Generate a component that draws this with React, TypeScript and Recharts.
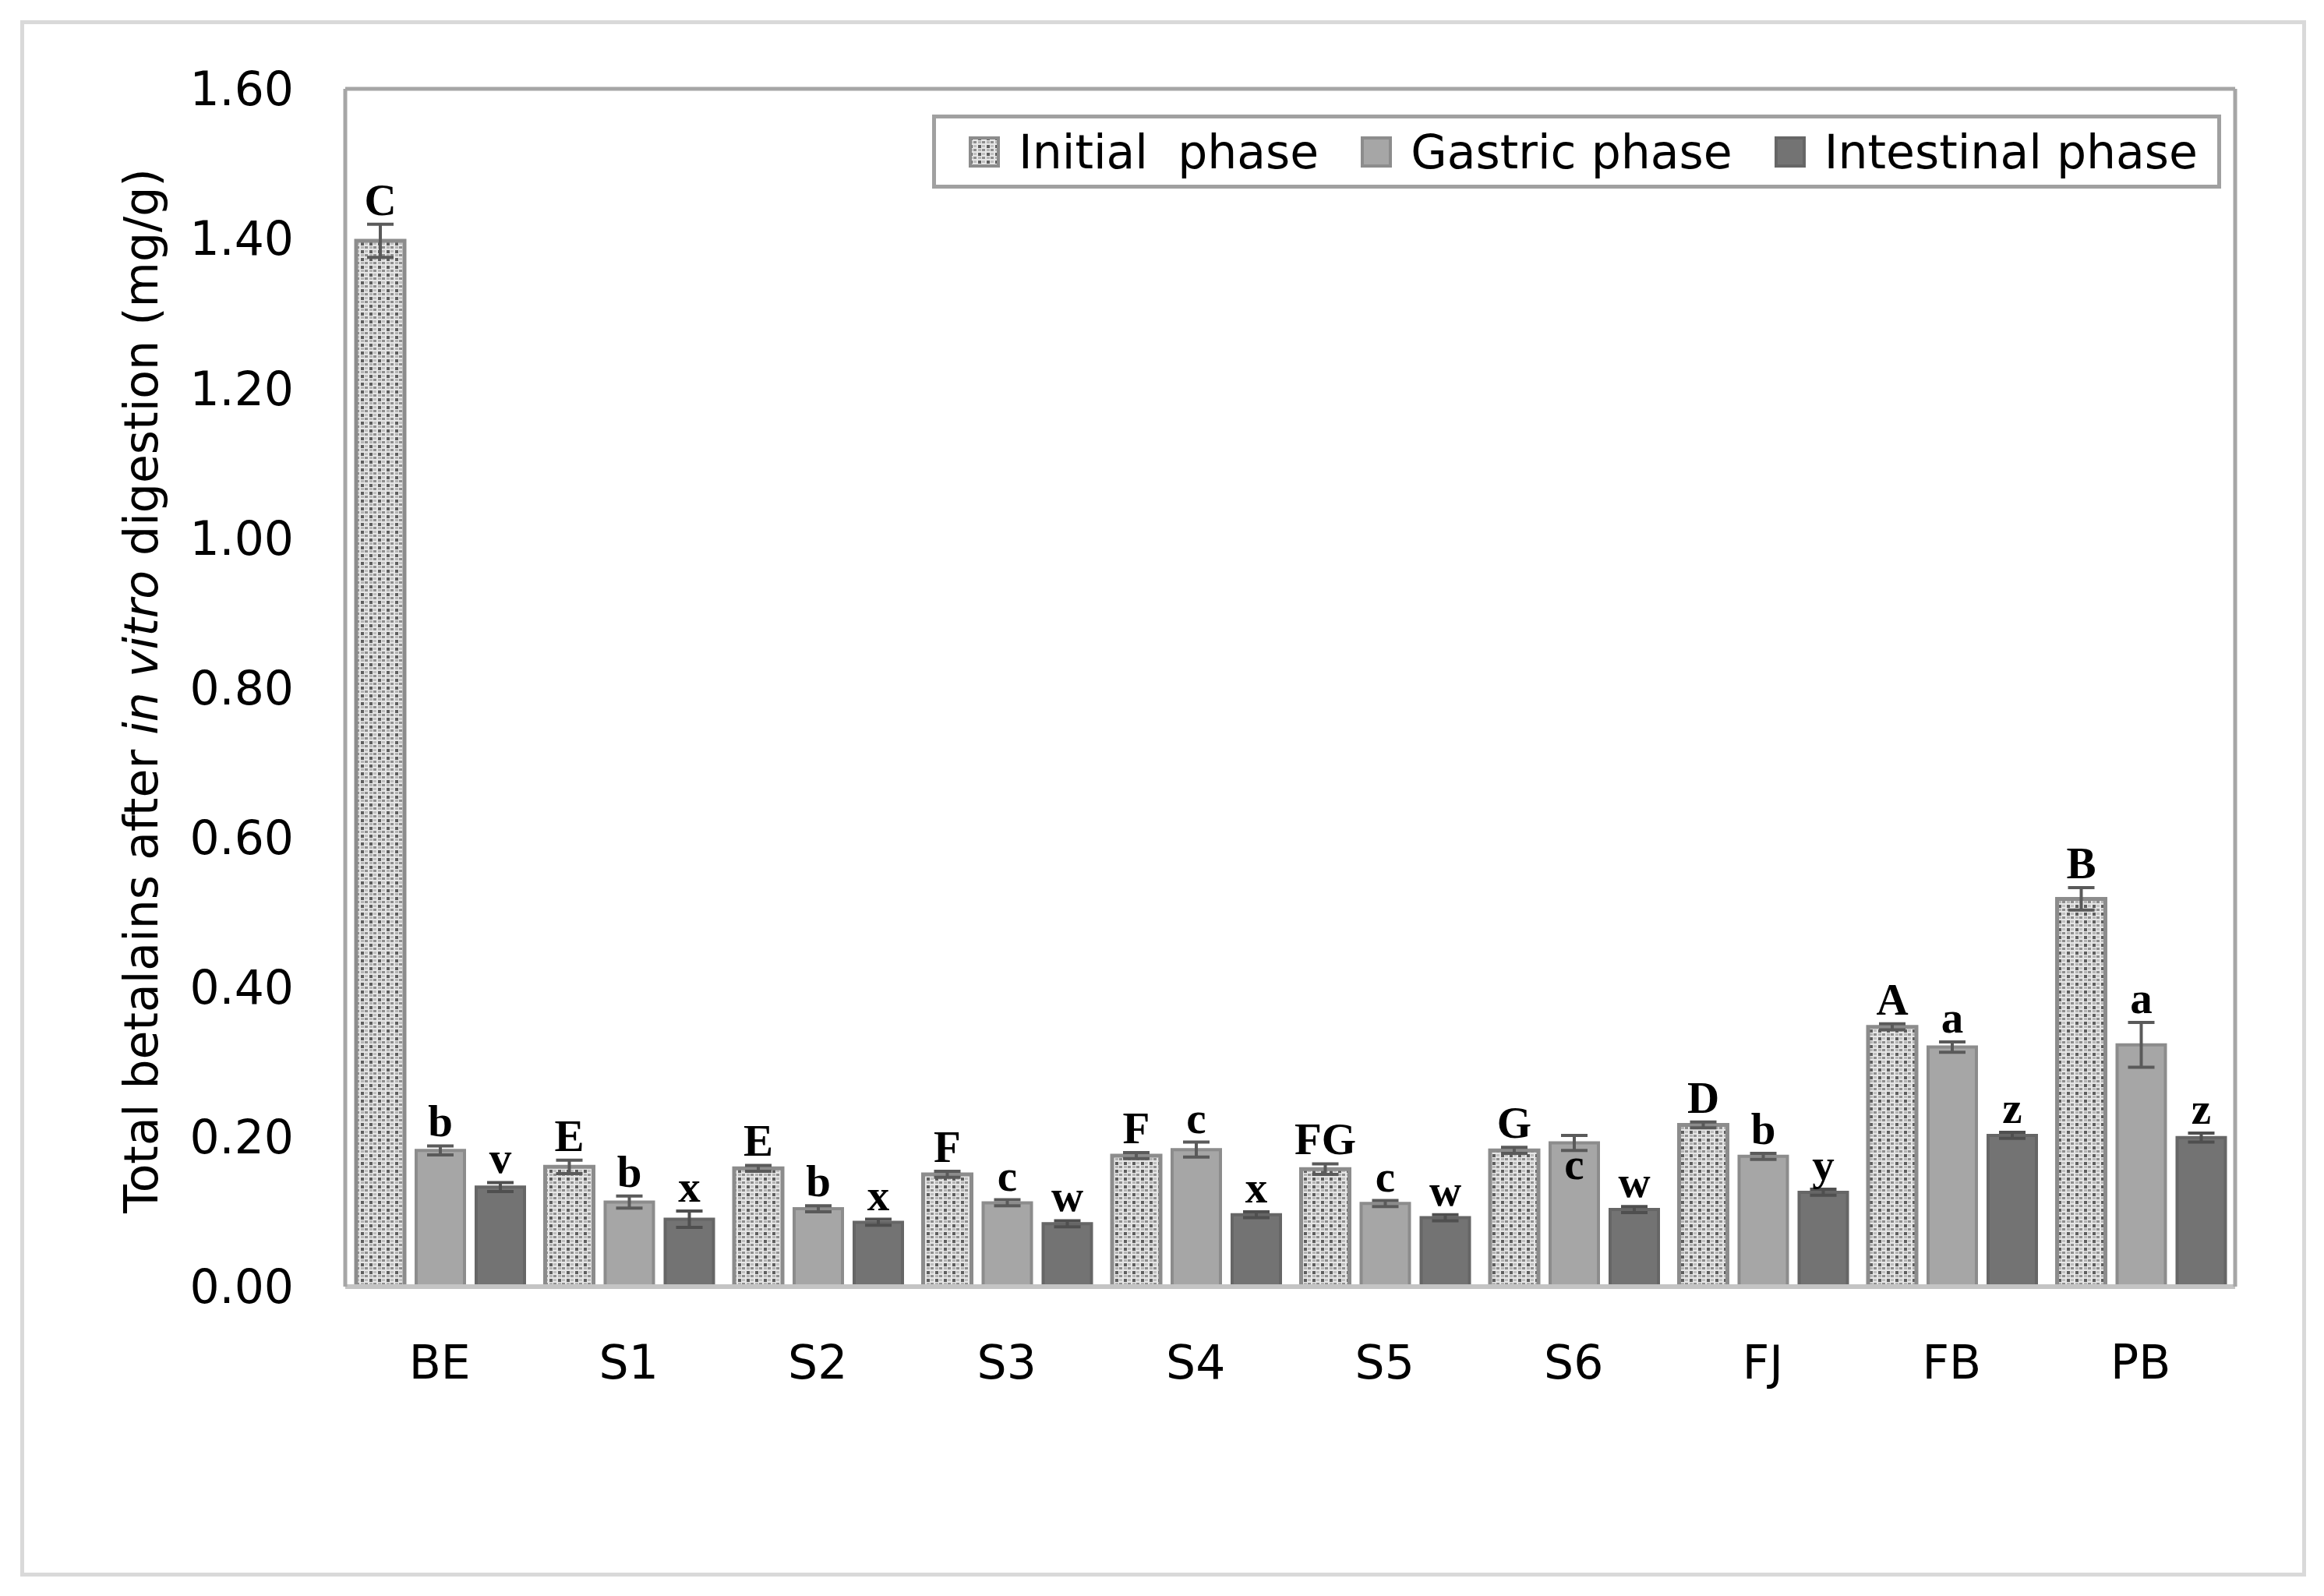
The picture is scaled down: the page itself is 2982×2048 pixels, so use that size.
import React from 'react';
import { BarChart, Bar, XAxis, YAxis, ErrorBar, LabelList, Legend } from 'recharts';

const categories = ['BE', 'S1', 'S2', 'S3', 'S4', 'S5', 'S6', 'FJ', 'FB', 'PB'];

const initialPhase = [1.397, 0.16, 0.158, 0.15, 0.175, 0.157, 0.182, 0.216, 0.347, 0.518];
const initialErr = [0.022, 0.009, 0.004, 0.004, 0.004, 0.007, 0.004, 0.004, 0.004, 0.015];
const initialLetters = ['C', 'E', 'E', 'F', 'F', 'FG', 'G', 'D', 'A', 'B'];

const gastricPhase = [0.182, 0.113, 0.104, 0.112, 0.183, 0.111, 0.192, 0.174, 0.32, 0.323];
const gastricErr = [0.006, 0.008, 0.004, 0.004, 0.01, 0.004, 0.01, 0.004, 0.007, 0.03];
const gastricLetters = ['b', 'b', 'b', 'c', 'c', 'c', 'c', 'b', 'a', 'a'];

const intestinalPhase = [0.133, 0.09, 0.086, 0.084, 0.096, 0.092, 0.103, 0.126, 0.202, 0.199];
const intestinalErr = [0.006, 0.011, 0.004, 0.004, 0.004, 0.004, 0.004, 0.004, 0.004, 0.006];
const intestinalLetters = ['v', 'x', 'x', 'w', 'x', 'w', 'w', 'y', 'z', 'z'];

const yTicks = [0, 0.2, 0.4, 0.6, 0.8, 1.0, 1.2, 1.4, 1.6];
const seriesOrder = ['initial', 'gastric', 'intestinal'];

const data = categories.map((name, i) => ({
  name,
  initial: initialPhase[i],
  initialErr: initialErr[i],
  initialLetter: initialLetters[i],
  gastric: gastricPhase[i],
  gastricErr: gastricErr[i],
  gastricLetter: gastricLetters[i],
  intestinal: intestinalPhase[i],
  intestinalErr: intestinalErr[i],
  intestinalLetter: intestinalLetters[i],
}));

const SANS = "'DejaVu Sans', sans-serif";
const SERIF = "'Liberation Serif', 'Times New Roman', serif";

// letter sits above the error bar; the S6 gastric "c" sits inside the bar in the original
const letterLabel = (values: number[], errs: number[], insideIdx: number[] = []) => (props: any) => {
  const { index, value } = props;
  const vb = props.viewBox ?? props;
  const x = Number(vb.x);
  const y = Number(vb.y);
  const w = Number(vb.width);
  const h = Number(vb.height);
  const errPx = values[index] ? (errs[index] / values[index]) * h : 0;
  const ty = insideIdx.includes(index) ? y + 46 : y - errPx - 12;
  return (
    <text x={x + w / 2} y={ty} textAnchor="middle" fontFamily={SERIF} fontWeight="bold" fontSize={57} fill="#000">
      {value}
    </text>
  );
};

const YTitle = (props: any) => {
  const vb = props.viewBox;
  const cx = vb.x + 138;
  const cy = vb.y + vb.height / 2 + 4;
  return (
    <text
      x={cx}
      y={cy}
      transform={`rotate(-90, ${cx}, ${cy})`}
      textAnchor="middle"
      dominantBaseline="central"
      fontFamily={SANS}
      fontSize={60}
      fill="#000"
    >
      <tspan>Total betalains after </tspan>
      <tspan fontStyle="italic">in vitro</tspan>
      <tspan> digestion (mg/g)</tspan>
    </text>
  );
};

const legendIcon = (key: string) => {
  if (key === 'initial') return { fill: 'url(#initialDots)', stroke: '#8c8c8c' };
  if (key === 'gastric') return { fill: '#a6a6a6', stroke: '#8c8c8c' };
  return { fill: '#737373', stroke: '#666666' };
};

const LegendBox = (props: any) => {
  const payload = [...(props.payload ?? [])].sort(
    (a: any, b: any) => seriesOrder.indexOf(a.dataKey) - seriesOrder.indexOf(b.dataKey)
  );
  return (
    <div
      style={{
        boxSizing: 'border-box',
        width: 1654,
        height: 95,
        border: '5px solid #a0a0a0',
        background: '#fff',
        display: 'flex',
        alignItems: 'center',
        paddingLeft: 42,
        fontFamily: SANS,
        fontSize: 60,
        color: '#000',
        whiteSpace: 'pre',
      }}
    >
      {payload.map((entry: any) => {
        const icon = legendIcon(entry.dataKey);
        return (
          <div key={entry.dataKey} style={{ display: 'flex', alignItems: 'center', marginRight: 54 }}>
            <svg width={40} height={40} style={{ marginRight: 24 }}>
              <rect x={2} y={2} width={36} height={36} fill={icon.fill} stroke={icon.stroke} strokeWidth={4} />
            </svg>
            <span>{entry.value}</span>
          </div>
        );
      })}
    </div>
  );
};

export default function App() {
  return (
    <div style={{ position: 'absolute', left: 0, top: 0, width: 2982, height: 2048, background: '#fff', fontFamily: SANS }}>
      <div
        style={{
          position: 'absolute',
          left: 26,
          top: 26,
          width: 2933,
          height: 1997,
          boxSizing: 'border-box',
          border: '5px solid #d9d9d9',
        }}
      />
      <div style={{ position: 'absolute', left: 0, top: 0 }}>
        <BarChart
          width={2982}
          height={2048}
          data={data}
          margin={{ top: 113, right: 113, bottom: 297, left: 43 }}
          barCategoryGap={14}
          barGap={15}
        >
          <defs>
            <pattern id="initialDots" width="11" height="10" patternUnits="userSpaceOnUse">
              <rect x="0" y="0" width="11" height="10" fill="#e6e6e6" />
              <rect x="1" y="1" width="4" height="4" fill="#5e5e5e" />
              <rect x="6" y="6" width="4" height="3" fill="#8e8e8e" />
              <rect x="6" y="1" width="4" height="3" fill="#c0c0c0" />
              <rect x="1" y="6" width="4" height="3" fill="#b4b4b4" />
            </pattern>
          </defs>
          <XAxis
            dataKey="name"
            height={100}
            interval={0}
            tickLine={false}
            tickSize={0}
            tickMargin={75}
            axisLine={{ stroke: '#c4c4c4', strokeWidth: 6 }}
            tick={{ fontSize: 60, fill: '#000', fontFamily: SANS }}
          />
          <XAxis
            xAxisId="top"
            orientation="top"
            dataKey="name"
            height={1}
            tick={false}
            tickLine={false}
            axisLine={{ stroke: '#a6a6a6', strokeWidth: 5 }}
          />
          <YAxis
            width={400}
            type="number"
            domain={[0, 1.6]}
            ticks={yTicks}
            interval={0}
            tickFormatter={(v: number) => v.toFixed(2)}
            tickLine={false}
            tickSize={0}
            tickMargin={66}
            axisLine={{ stroke: '#a6a6a6', strokeWidth: 5 }}
            tick={{ fontSize: 60, fill: '#000', fontFamily: SANS }}
            label={(p: any) => <YTitle {...p} />}
          />
          <YAxis
            yAxisId="right"
            orientation="right"
            type="number"
            width={1}
            domain={[0, 1.6]}
            tick={false}
            tickLine={false}
            axisLine={{ stroke: '#a6a6a6', strokeWidth: 5 }}
          />
          <Legend
            layout="horizontal"
            verticalAlign="middle"
            align="center"
            wrapperStyle={{ top: 147, left: 1196, width: 1654, height: 95 }}
            content={<LegendBox />}
          />
          <Bar
            dataKey="initial"
            name="Initial  phase"
            fill="url(#initialDots)"
            stroke="#8c8c8c"
            strokeWidth={5}
            isAnimationActive={false}
          >
            <ErrorBar dataKey="initialErr" width={17} strokeWidth={4} stroke="#5a5a5a" direction="y" />
            <LabelList dataKey="initialLetter" content={letterLabel(initialPhase, initialErr)} />
          </Bar>
          <Bar
            dataKey="gastric"
            name="Gastric phase"
            fill="#a6a6a6"
            stroke="#8c8c8c"
            strokeWidth={4}
            isAnimationActive={false}
          >
            <ErrorBar dataKey="gastricErr" width={17} strokeWidth={4} stroke="#5a5a5a" direction="y" />
            <LabelList dataKey="gastricLetter" content={letterLabel(gastricPhase, gastricErr, [6])} />
          </Bar>
          <Bar
            dataKey="intestinal"
            name="Intestinal phase"
            fill="#737373"
            stroke="#666666"
            strokeWidth={4}
            isAnimationActive={false}
          >
            <ErrorBar dataKey="intestinalErr" width={17} strokeWidth={4} stroke="#4f4f4f" direction="y" />
            <LabelList dataKey="intestinalLetter" content={letterLabel(intestinalPhase, intestinalErr)} />
          </Bar>
        </BarChart>
      </div>
    </div>
  );
}
